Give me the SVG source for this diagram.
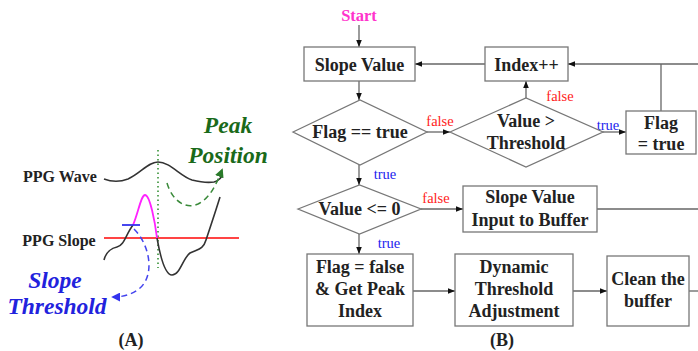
<svg xmlns="http://www.w3.org/2000/svg" width="698" height="351" viewBox="0 0 698 351">
<style>
.box{fill:#fff;stroke:#777;stroke-width:1.3}
.t{font-family:"Liberation Serif","Times New Roman",serif;font-weight:bold;font-size:18px;fill:#222;text-anchor:middle}
.lbl{font-family:"Liberation Serif","Times New Roman",serif;font-size:14.5px;text-anchor:middle}
.f{fill:#f22}
.tr{fill:#22e}
.ln{fill:none;stroke:#666;stroke-width:1.3}
.big{font-family:"Liberation Serif","Times New Roman",serif;font-weight:bold;font-style:italic;font-size:23.5px;text-anchor:middle}
.lab{font-family:"Liberation Serif","Times New Roman",serif;font-weight:bold;font-size:16px;fill:#222;text-anchor:middle}
.cap{font-family:"Liberation Serif","Times New Roman",serif;font-weight:bold;font-size:18px;fill:#222;text-anchor:middle}
</style>
<defs>
<marker id="ah" viewBox="0 0 10 10" refX="10" refY="5" markerWidth="7" markerHeight="7" markerUnits="userSpaceOnUse" orient="auto"><path d="M0,1 L10,5 L0,9 Z" fill="#111"/></marker>
<marker id="ahg" viewBox="0 0 10 10" refX="8" refY="5" markerWidth="9" markerHeight="9" markerUnits="userSpaceOnUse" orient="auto"><path d="M0,0 L10,5 L0,10 Z" fill="#2a7a2a"/></marker>
<marker id="ahb" viewBox="0 0 10 10" refX="8" refY="5" markerWidth="9" markerHeight="9" markerUnits="userSpaceOnUse" orient="auto"><path d="M0,0 L10,5 L0,10 Z" fill="#33e"/></marker>
</defs>
<rect width="698" height="351" fill="#fff"/>

<!-- Panel A -->
<g id="panelA">
<text x="60" y="182" class="lab">PPG Wave</text>
<text x="59" y="246" class="lab">PPG Slope</text>
<path d="M104,179 C112,182 120,182 128,179 C140,174 148,162 158,162 C170,162 180,176 192,180 C200,182 208,183 214,182 C218,181 220,179 222,176" fill="none" stroke="#333" stroke-width="1.6"/>
<line x1="158" y1="150" x2="158" y2="268" stroke="#2a8a2a" stroke-width="1.5" stroke-dasharray="1.5,3"/>
<path d="M167,183 C172,200 185,210 198,204 C210,198 216,185 222,170" fill="none" stroke="#3a8a3a" stroke-width="1.5" stroke-dasharray="6,4" marker-end="url(#ahg)"/>
<line x1="104" y1="238" x2="239" y2="238" stroke="#f44" stroke-width="1.8"/>
<path d="M104,260 C106,252 112,248 117,247 C124,246 126,234 133,225" fill="none" stroke="#333" stroke-width="1.6"/>
<path d="M133,225 C138,214 141,195 145,195 C150,195 155,222 157,238" fill="none" stroke="#f2f" stroke-width="1.8"/>
<path d="M157,238 C160,255 165,275 172,275 C180,275 183,258 190,253 C198,249 203,250 206,240 C212,222 216,210 220,197" fill="none" stroke="#333" stroke-width="1.6"/>
<line x1="122" y1="225" x2="140" y2="225" stroke="#33e" stroke-width="1.8"/>
<path d="M134,229 C150,245 155,275 140,288 C132,295 122,297 113,297" fill="none" stroke="#44e" stroke-width="1.5" stroke-dasharray="6,4" marker-end="url(#ahb)"/>
<text x="228" y="133" class="big" fill="#1a6a1a">Peak</text>
<text x="228" y="163" class="big" fill="#1a6a1a">Position</text>
<text x="55" y="288" class="big" fill="#22d">Slope</text>
<text x="57" y="314" class="big" fill="#22d">Threshold</text>
<text x="131" y="346" class="cap">(A)</text>
</g>

<!-- Panel B connectors -->
<g id="connectors">
<line class="ln" x1="359" y1="25" x2="359" y2="47" marker-end="url(#ah)"/>
<line class="ln" x1="485" y1="64" x2="415" y2="64" marker-end="url(#ah)"/>
<line class="ln" x1="698" y1="64" x2="568" y2="64" marker-end="url(#ah)"/>
<line class="ln" x1="661" y1="111" x2="661" y2="64"/>
<line class="ln" x1="359" y1="81" x2="359" y2="100" marker-end="url(#ah)"/>
<line class="ln" x1="427" y1="132" x2="450" y2="132" marker-end="url(#ah)"/>
<line class="ln" x1="526" y1="98" x2="526" y2="81" marker-end="url(#ah)"/>
<line class="ln" x1="603" y1="132" x2="626" y2="132" marker-end="url(#ah)"/>
<line class="ln" x1="359" y1="165" x2="359" y2="185" marker-end="url(#ah)"/>
<line class="ln" x1="421" y1="209" x2="463" y2="209" marker-end="url(#ah)"/>
<line class="ln" x1="597" y1="209" x2="698" y2="209"/>
<line class="ln" x1="359" y1="234" x2="359" y2="254" marker-end="url(#ah)"/>
<line class="ln" x1="413" y1="291" x2="455" y2="291" marker-end="url(#ah)"/>
<line class="ln" x1="573" y1="291" x2="607" y2="291" marker-end="url(#ah)"/>
<line class="ln" x1="689" y1="291" x2="698" y2="291"/>
<text x="440" y="126" class="lbl f">false</text>
<text x="560" y="101" class="lbl f">false</text>
<text x="608" y="130" class="lbl tr">true</text>
<text x="385" y="179" class="lbl tr">true</text>
<text x="436" y="203" class="lbl f">false</text>
<text x="389" y="248" class="lbl tr">true</text>
</g>

<g id="start"><text x="359" y="21" style="font-family:'Liberation Serif',serif;font-weight:bold;font-size:16.5px;fill:#f3c" text-anchor="middle">Start</text></g>

<g id="slopeValue"><rect class="box" x="304" y="47" width="111" height="34"/><text class="t" x="359.5" y="70.5">Slope Value</text></g>
<g id="indexInc"><rect class="box" x="485" y="47" width="83" height="34"/><text class="t" x="526.5" y="70.5">Index++</text></g>
<g id="flagEqTrue"><polygon class="box" points="293,132 360,100 427,132 360,165"/><text class="t" x="360" y="138">Flag == true</text></g>
<g id="valueGtThreshold"><polygon class="box" points="450,132 526,98 603,132 526,167"/><text class="t" x="526" y="127">Value &gt;</text><text class="t" x="526" y="149">Threshold</text></g>
<g id="flagSetTrue"><rect class="box" x="626" y="111" width="70" height="43"/><text class="t" x="661" y="129">Flag</text><text class="t" x="661" y="150">= true</text></g>
<g id="valueLe0"><polygon class="box" points="298,209 359.5,185 421,209 359.5,234"/><text class="t" x="359.5" y="215">Value &lt;= 0</text></g>
<g id="inputBuffer"><rect class="box" x="463" y="186" width="134" height="46"/><text class="t" x="530" y="203">Slope Value</text><text class="t" x="530" y="226">Input to Buffer</text></g>
<g id="flagFalse"><rect class="box" x="307" y="254" width="106" height="72"/><text class="t" x="360" y="273">Flag = false</text><text class="t" x="360" y="295">&amp; Get Peak</text><text class="t" x="360" y="317">Index</text></g>
<g id="dynamic"><rect class="box" x="455" y="254" width="118" height="72"/><text class="t" x="514" y="273">Dynamic</text><text class="t" x="514" y="295">Threshold</text><text class="t" x="514" y="317">Adjustment</text></g>
<g id="clean"><rect class="box" x="607" y="256" width="82" height="70"/><text class="t" x="648" y="285">Clean the</text><text class="t" x="648" y="307">buffer</text></g>
<g id="labelB"><text x="502" y="346" class="cap">(B)</text></g>
</svg>
